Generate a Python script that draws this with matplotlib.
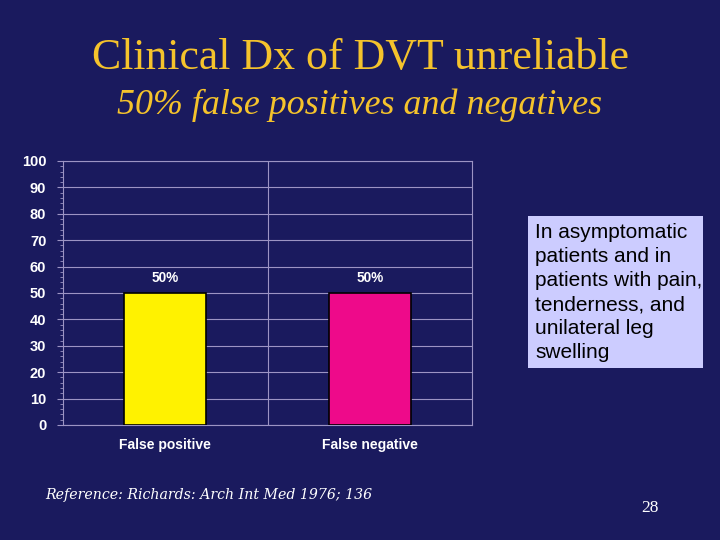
import matplotlib
matplotlib.use("Agg")
import matplotlib.pyplot as plt
import numpy as np

categories = ["False positive", "False negative"]
values = [50, 50]
value_labels = ["50%", "50%"]
bar_colors = ["#FFF200", "#EE0A8A"]
yticks = [0, 10, 20, 30, 40, 50, 60, 70, 80, 90, 100]

BG = "#1A1A5E"
GRID = "#9C94C4"
GOLD = "#F5C32C"

fig = plt.figure(figsize=(7.2, 5.4), dpi=100, facecolor=BG)

fig.text(0.5, 1 - 58/540, "Clinical Dx of DVT unreliable", ha="center", va="center",
         color=GOLD, family="Liberation Serif", fontsize=31.6)
fig.text(0.5, 1 - 105/540, "50% false positives and negatives", ha="center", va="center",
         color=GOLD, family="Liberation Serif", style="italic", fontsize=25.8)

ax = fig.add_axes([63/720, 1 - 425/540, (472 - 63)/720, (425 - 161)/540])
ax.set_facecolor(BG)
x = np.arange(len(categories))
bars = ax.bar(x, values, width=0.4, color=bar_colors, edgecolor="black", linewidth=1.2, zorder=3)
for xi, v, lab in zip(x, values, value_labels):
    ax.text(xi, v + 3, lab, ha="center", va="bottom", color="white",
            fontweight="bold", fontsize=9.8, family="Liberation Sans")

ax.set_xlim(-0.5, len(categories) - 0.5)
ax.set_ylim(0, 100)
ax.set_yticks(yticks)
ax.set_yticks(np.arange(0, 101, 2), minor=True)
ax.set_yticklabels([str(t) for t in yticks], color="white", fontweight="bold",
                   fontsize=10.5, family="Liberation Sans")
ax.set_xticks(x)
ax.set_xticklabels(categories, color="white", fontweight="bold", fontsize=10,
                   family="Liberation Sans")
ax.tick_params(axis="x", length=0, pad=9)
ax.tick_params(axis="y", which="major", length=4, color=GRID, pad=8)
ax.tick_params(axis="y", which="minor", length=2, color=GRID)
ax.yaxis.grid(True, color=GRID, linewidth=0.8, zorder=0)
for b in np.arange(0.5, len(categories) - 0.5, 1):
    ax.axvline(b, color=GRID, linewidth=0.8, zorder=0)
for s in ax.spines.values():
    s.set_color(GRID)
    s.set_linewidth(0.8)

fig.patches.append(plt.Rectangle((528/720, 1 - 368/540), (703 - 528)/720, (368 - 216)/540,
                                 transform=fig.transFigure, facecolor="#CCCCFF",
                                 edgecolor="none", zorder=1))
fig.text(535/720, 1 - 223/540,
         "In asymptomatic\npatients and in\npatients with pain,\ntenderness, and\nunilateral leg\nswelling",
         ha="left", va="top", color="black", family="Liberation Sans", fontsize=15,
         linespacing=1.34, zorder=2)

fig.text(45/720, 1 - 495/540, "Reference: Richards: Arch Int Med 1976; 136", ha="left", va="center",
         color="white", family="DejaVu Serif", style="italic", fontsize=10.2)
fig.text(650/720, 1 - 508/540, "28", ha="center", va="center", color="white",
         family="Liberation Serif", fontsize=12.5)

fig.savefig("out.png", dpi=100, facecolor=BG)
